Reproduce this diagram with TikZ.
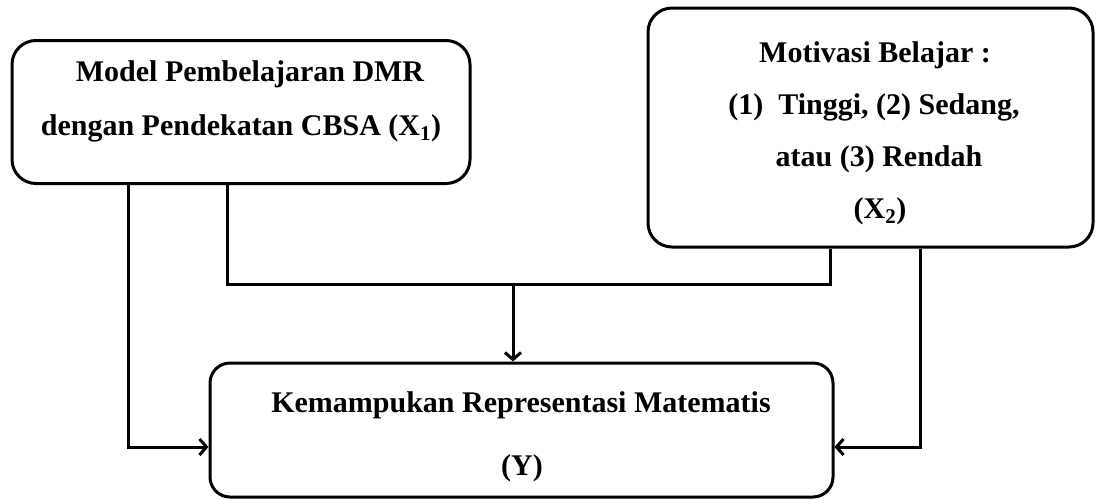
\documentclass[tikz,border=0pt]{standalone}
\usepackage{fontspec}
\setmainfont{Liberation Serif}
\usetikzlibrary{arrows.meta}
\begin{document}
\begin{tikzpicture}[x=1pt,y=-1pt,
  box/.style={draw,line width=3pt,rounded corners=24pt,inner sep=0pt},
  txt/.style={font=\fontsize{30}{32}\selectfont\bfseries,inner sep=0pt,anchor=base},
  conn/.style={line width=3pt},
  arr/.style={line width=3pt,-{Straight Barb[length=7pt,width=16pt,line width=3pt]}}]
\useasboundingbox (0,0) rectangle (1096,499);
\node[box,minimum width=458pt,minimum height=143pt] (b1) at (241,112) {};
\node[box,minimum width=445pt,minimum height=239pt] (b2) at (870.5,127.5) {};
\node[box,rounded corners=20pt,minimum width=623pt,minimum height=134pt] (y) at (521.5,430) {};
\node[txt] (t1a) at (250,81) {Model Pembelajaran DMR};
\node[txt] (t1b) at (241,135) {dengan Pendekatan CBSA (X\textsubscript{1})};
\node[txt] (t2a) at (875,62) {Motivasi Belajar :};
\node[txt] (t2b) at (874,114) {(1)\ \ Tinggi, (2) Sedang,};
\node[txt] (t2c) at (879,166) {atau (3) Rendah};
\node[txt] (t2d) at (880,218) {(X\textsubscript{2})};
\node[txt] (t3a) at (521,412) {Kemampukan Representasi Matematis};
\node[txt] (t3b) at (522,475) {(Y)};
\coordinate (l1) at (128,447);
\coordinate (m1) at (227,284);
\coordinate (m2) at (830,284);
\coordinate (m3) at (513,284);
\coordinate (r1) at (920,447);
\draw[arr] (b1.south -| l1) |- (y.west |- l1);
\draw[conn] (b1.south -| m1) |- (m2) -- (b2.south -| m2);
\draw[arr] (m3) -- (y.north -| m3);
\draw[arr] (b2.south -| r1) |- (y.east |- r1);
\end{tikzpicture}
\end{document}
